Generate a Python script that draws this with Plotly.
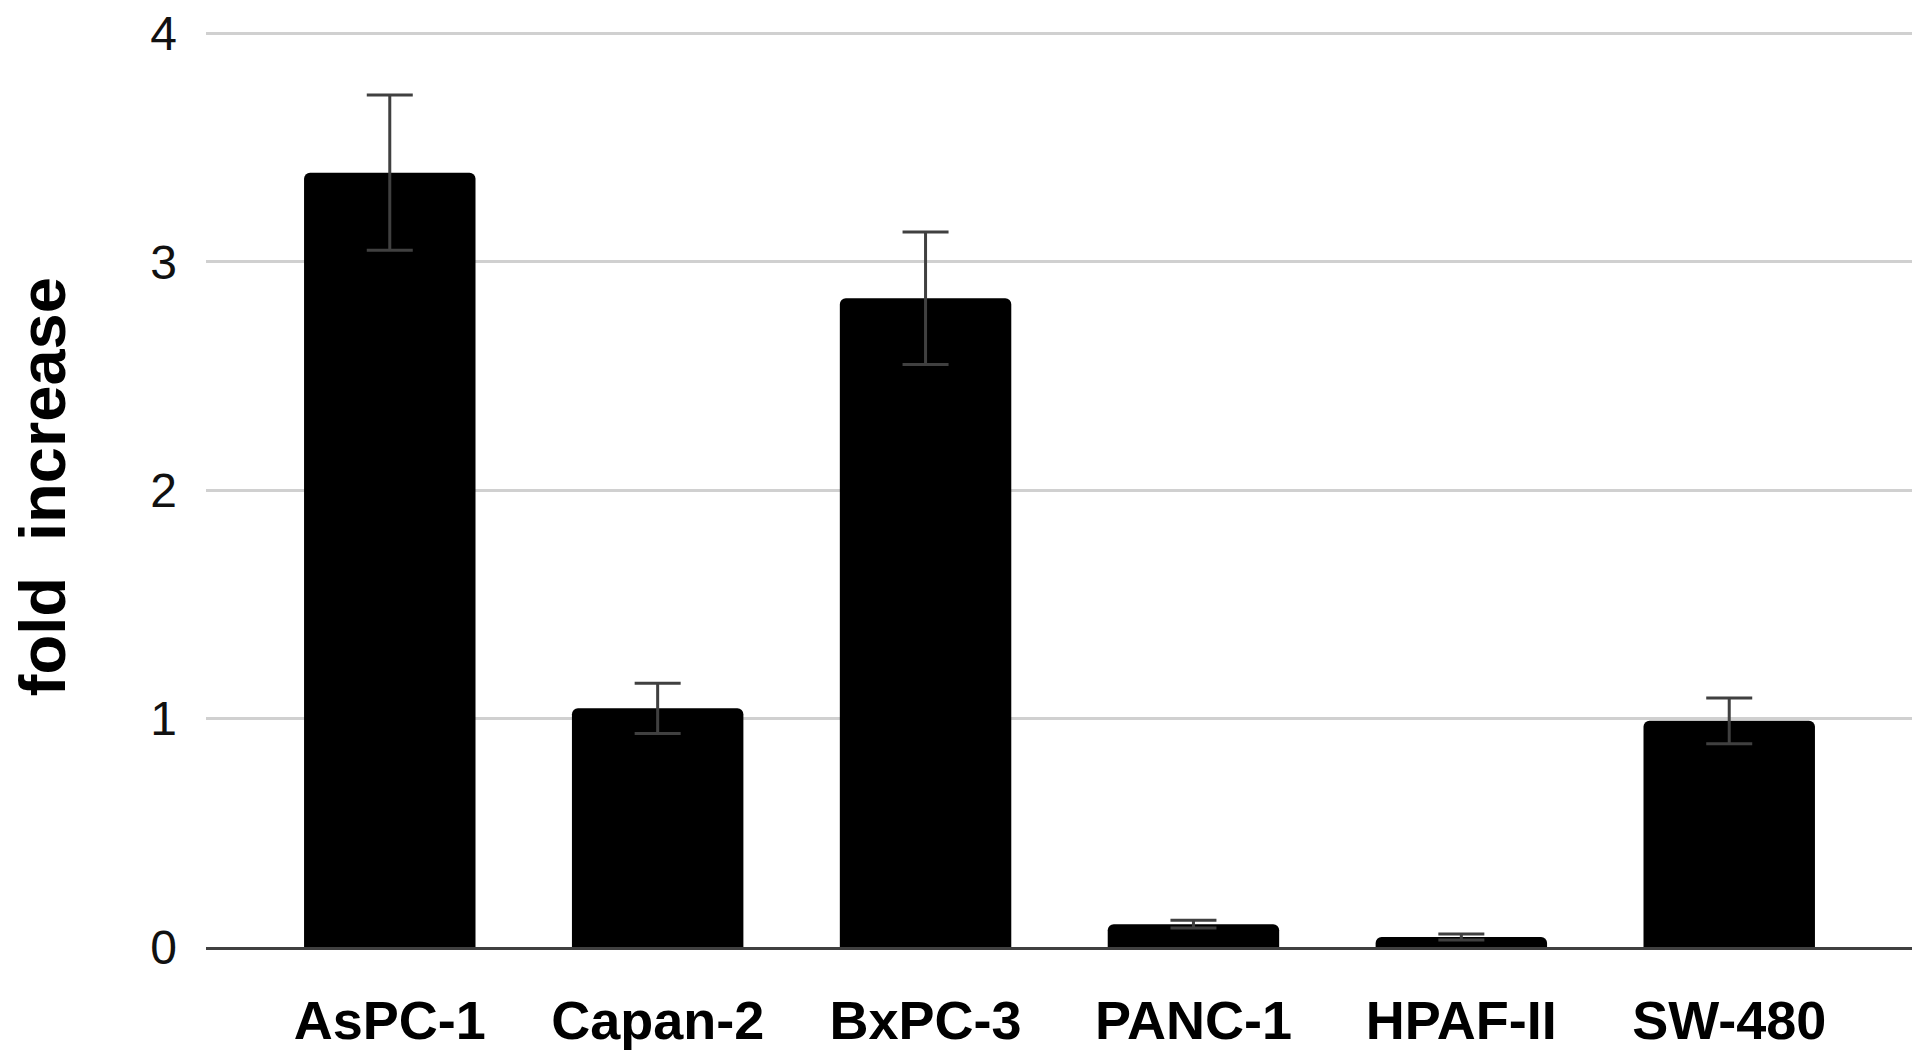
import plotly.graph_objects as go

#--------------------------------------------------------------
# Data

cell_lines = ['AsPC-1', 'Capan-2', 'BxPC-3', 'PANC-1', 'HPAF-II', 'SW-480']
fold_increase = [3.39, 1.045, 2.84, 0.10, 0.044, 0.99]
fold_error = [0.34, 0.11, 0.29, 0.017, 0.013, 0.10]
y_ticks = [0, 1, 2, 3, 4]
y_title = 'fold  increase'

#--------------------------------------------------------------

fig = go.Figure()

fig.add_trace(go.Bar(
    x=cell_lines,
    y=fold_increase,
    width=0.64,
    marker=dict(color='black', line=dict(width=0)),
    error_y=dict(
        type='data',
        array=fold_error,
        visible=True,
        color='#404040',
        thickness=3,
        width=23
    )
))

# page body adds ~8px offset, margins compensate for it
fig.update_layout(
    width=1920,
    height=1060,
    plot_bgcolor='white',
    paper_bgcolor='white',
    margin=dict(l=198, r=15, t=23, b=121),
    barcornerradius=6,
    showlegend=False,
    font=dict(family='Liberation Sans, Arial', color='black')
)

# y title as an annotation so it can sit close to the left edge
fig.add_annotation(
    text='<b>' + y_title + '</b>',
    textangle=-90,
    xref='paper', yref='paper',
    x=0, y=0.502,
    xanchor='center', yanchor='middle',
    xshift=-164,
    borderpad=0,
    showarrow=False,
    font=dict(size=65, color='black')
)

# range a hair above 4 so the top grid line is drawn
fig.update_yaxes(
    range=[0, 4.01],
    tickvals=y_ticks,
    automargin=False,
    ticklabeloverflow='allow',
    showgrid=True,
    gridcolor='#d0d0d0',
    gridwidth=3,
    zeroline=False,
    showline=False,
    tickfont=dict(size=48, color='#111111'),
    ticklabelstandoff=28
)

fig.update_xaxes(
    range=[-0.686, 5.686],
    automargin=False,
    ticklabeloverflow='allow',
    showline=True,
    linecolor='#404040',
    linewidth=3,
    showgrid=False,
    tickfont=dict(size=54, color='black'),
    tickprefix='<b>',
    ticksuffix='</b>',
    ticklabelstandoff=24
)

fig.write_html("out.html")
